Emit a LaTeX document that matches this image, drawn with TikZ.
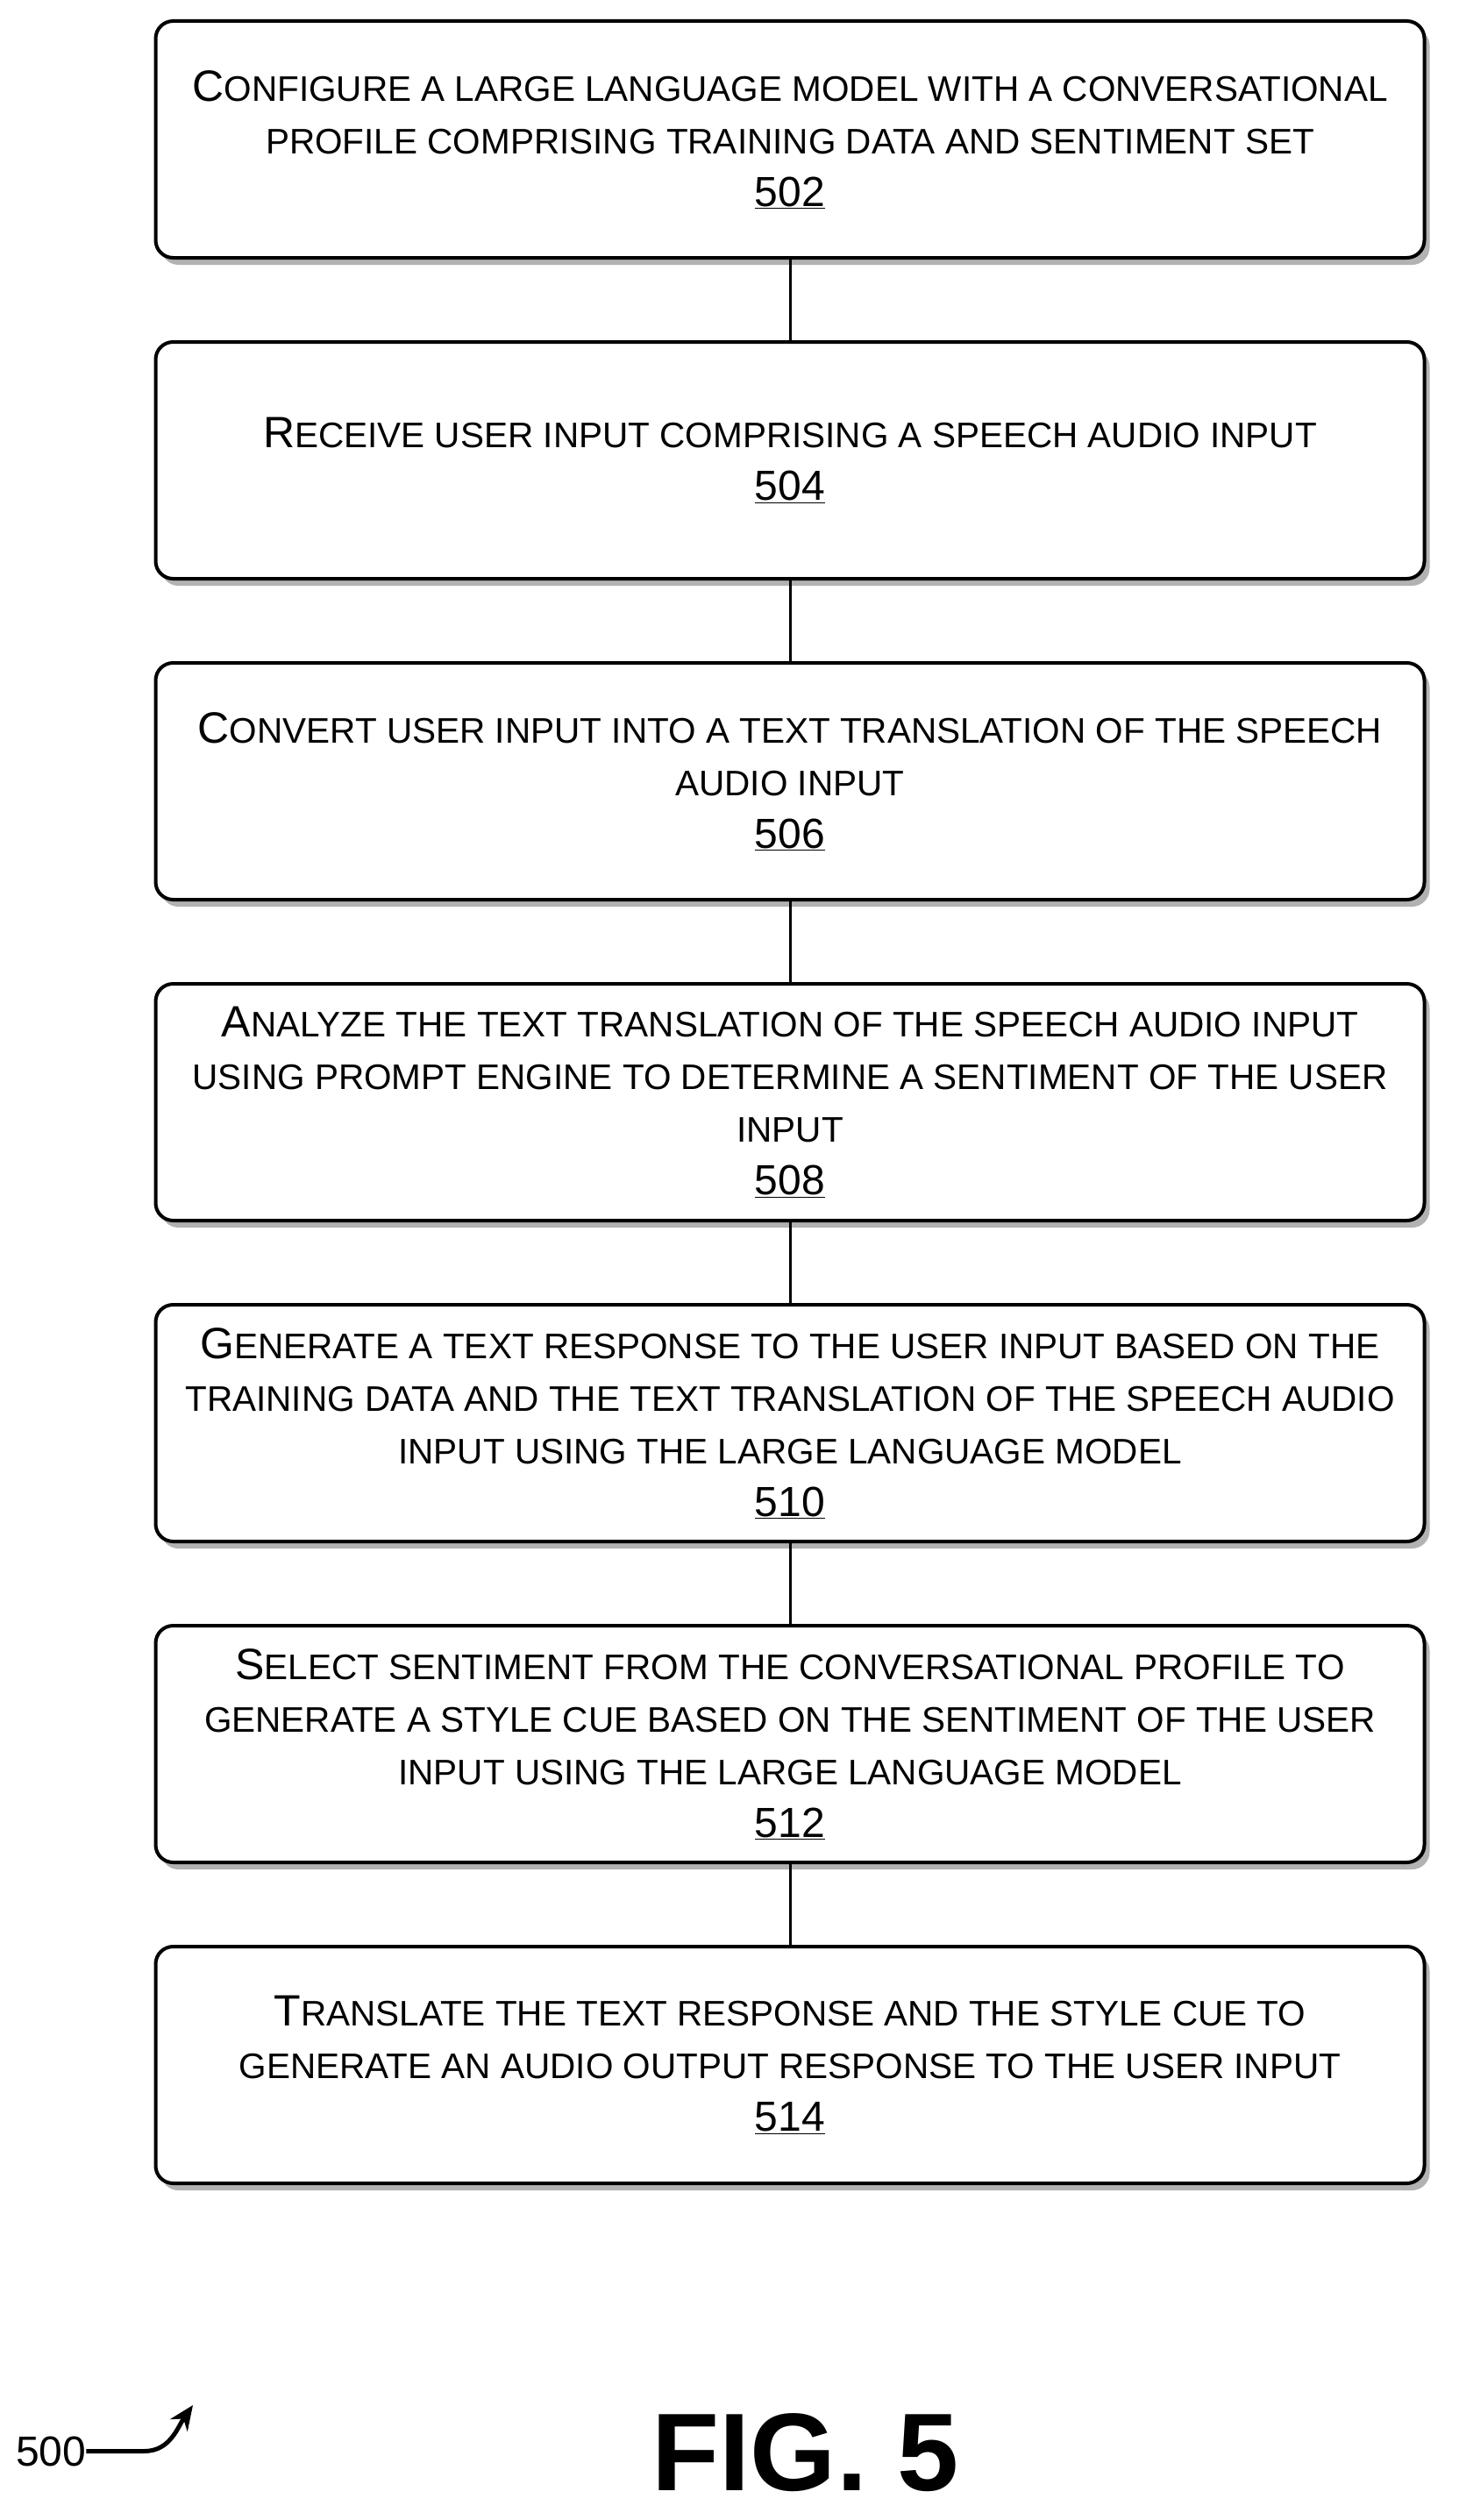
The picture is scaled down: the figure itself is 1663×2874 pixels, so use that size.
\documentclass[tikz,border=0pt]{standalone}
\usepackage{fontspec}
\setmainfont{Liberation Sans}
\usetikzlibrary{positioning, arrows.meta}
\newcommand\capfirst[1]{{\fontsize{50}{60}\selectfont #1}}
\newcommand\stepno[1]{{\fontsize{48}{60}\selectfont\underline{#1}}}
\tikzset{
    stepBox/.style={
        rectangle,
        rounded corners=20pt,
        draw=black,
        line width=4pt,
        fill=white,
        minimum width=1447pt,
        minimum height=270pt,
        align=center,
        font=\fontsize{40.5}{60}\selectfont,
        preaction={draw=none, fill=black!30, transform canvas={xshift=6pt, yshift=-8pt}}
    },
    link/.style={
        line width=3pt,
        draw=black
    }
}
\begin{document}
\begin{tikzpicture}[x=1pt, y=-1pt, node distance=92pt]
    \useasboundingbox (0,0) rectangle (1663,2874);
    \fill[white] (0,0) rectangle (1663,2874);

    % Steps
    \node[stepBox] (s502) at (901,159) {\capfirst{C}ONFIGURE A LARGE LANGUAGE MODEL WITH A CONVERSATIONAL\\PROFILE COMPRISING TRAINING DATA AND SENTIMENT SET\\\stepno{502}};
    \node[stepBox, below=of s502] (s504) {\capfirst{R}ECEIVE USER INPUT COMPRISING A SPEECH AUDIO INPUT\\\stepno{504}};
    \node[stepBox, below=of s504] (s506) {\capfirst{C}ONVERT USER INPUT INTO A TEXT TRANSLATION OF THE SPEECH\\AUDIO INPUT\\\stepno{506}};
    \node[stepBox, below=of s506] (s508) {\capfirst{A}NALYZE THE TEXT TRANSLATION OF THE SPEECH AUDIO INPUT\\USING PROMPT ENGINE TO DETERMINE A SENTIMENT OF THE USER\\INPUT\\\stepno{508}};
    \node[stepBox, below=of s508] (s510) {\capfirst{G}ENERATE A TEXT RESPONSE TO THE USER INPUT BASED ON THE\\TRAINING DATA AND THE TEXT TRANSLATION OF THE SPEECH AUDIO\\INPUT USING THE LARGE LANGUAGE MODEL\\\stepno{510}};
    \node[stepBox, below=of s510] (s512) {\capfirst{S}ELECT SENTIMENT FROM THE CONVERSATIONAL PROFILE TO\\GENERATE A STYLE CUE BASED ON THE SENTIMENT OF THE USER\\INPUT USING THE LARGE LANGUAGE MODEL\\\stepno{512}};
    \node[stepBox, below=of s512] (s514) {\capfirst{T}RANSLATE THE TEXT RESPONSE AND THE STYLE CUE TO\\GENERATE AN AUDIO OUTPUT RESPONSE TO THE USER INPUT\\\stepno{514}};

    % Connectors
    \foreach \a/\b in {502/504, 504/506, 506/508, 508/510, 510/512, 512/514}
        \draw[link] (s\a.south) -- (s\b.north);

    % Figure label
    \node[font=\fontsize{48}{56}\selectfont, anchor=base west, inner sep=0pt] (ref) at (18,2812) {500};
    \coordinate (refTip) at (220,2743);
    \draw[line width=5pt, -{Stealth[length=28pt, width=24pt]}] (ref.east) -- ++(66,0) to[out=0, in=235] (refTip);
    \node[font=\fontsize{126}{130}\selectfont\bfseries, anchor=base] (fig) at (919,2840) {FIG. 5};
\end{tikzpicture}
\end{document}
